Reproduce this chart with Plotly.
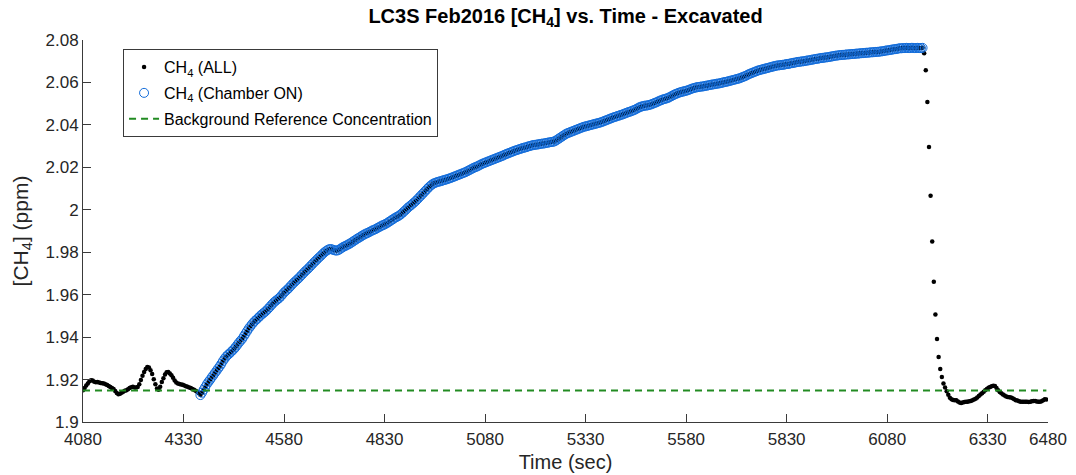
import plotly.graph_objects as go

# Sampling grid of the analyser (s)
T_START = 4080
SAMPLE_DT = 4

# [CH4] (ppm) before the chamber was closed, 4080-4368 s
ch4_before = [
    1.9150, 1.9160, 1.9172, 1.9182, 1.9192, 1.9197, 1.9196, 1.9190, 1.9187, 1.9188,
    1.9186, 1.9184, 1.9183, 1.9181, 1.9178, 1.9174, 1.9170, 1.9165, 1.9160, 1.9155,
    1.9146, 1.9137, 1.9131, 1.9133, 1.9138, 1.9143, 1.9147, 1.9150, 1.9154, 1.9160,
    1.9164, 1.9166, 1.9163, 1.9162, 1.9165, 1.9178, 1.9198, 1.9218, 1.9236, 1.9250,
    1.9259, 1.9257, 1.9244, 1.9226, 1.9202, 1.9178, 1.9158, 1.9152, 1.9166, 1.9188,
    1.9206, 1.9224, 1.9235, 1.9236, 1.9229, 1.9220, 1.9208, 1.9196, 1.9186, 1.9181,
    1.9179, 1.9177, 1.9175, 1.9172, 1.9168, 1.9166, 1.9163, 1.9160, 1.9156, 1.9152,
    1.9147, 1.9142, 1.9136,
]

# [CH4] (ppm) while the chamber is ON, 4372-6168 s
ch4_chamber = [
    1.9127, 1.9138, 1.9152, 1.9165, 1.9178,
    1.9189, 1.9199, 1.9210, 1.9220,
    1.9231, 1.9241, 1.9252, 1.9262,
    1.9274, 1.9287, 1.9298, 1.9308,
    1.9316, 1.9322, 1.9330, 1.9337, 1.9345,
    1.9354, 1.9364, 1.9374, 1.9383, 1.9392,
    1.9404, 1.9416, 1.9428, 1.9440, 1.9450, 1.9460,
    1.9469, 1.9477, 1.9484, 1.9491, 1.9499, 1.9506, 1.9512,
    1.9518, 1.9525, 1.9533, 1.9541, 1.9550, 1.9558, 1.9566, 1.9572,
    1.9578, 1.9584, 1.9592, 1.9601, 1.9610, 1.9617, 1.9624,
    1.9631, 1.9640, 1.9648, 1.9656, 1.9663, 1.9670, 1.9677, 1.9685,
    1.9693, 1.9701, 1.9709, 1.9716, 1.9723, 1.9731, 1.9739, 1.9747,
    1.9755, 1.9762, 1.9770, 1.9777, 1.9784, 1.9792, 1.9799, 1.9805, 1.9810, 1.9814,
    1.9815, 1.9813, 1.9810, 1.9808, 1.9808, 1.9811, 1.9816, 1.9821, 1.9826,
    1.9829, 1.9833, 1.9837, 1.9841, 1.9846, 1.9851, 1.9856, 1.9861, 1.9866, 1.9870,
    1.9875, 1.9880, 1.9884, 1.9888,
    1.9891, 1.9895, 1.9899, 1.9903, 1.9906, 1.9909, 1.9914, 1.9918, 1.9922, 1.9926, 1.9929,
    1.9933, 1.9937, 1.9942, 1.9947, 1.9952, 1.9957, 1.9962, 1.9966, 1.9970, 1.9975,
    1.9981, 1.9988, 1.9995, 2.0002, 2.0010, 2.0016, 2.0022, 2.0029,
    2.0035, 2.0042, 2.0050, 2.0058, 2.0066, 2.0074, 2.0082,
    2.0090, 2.0098, 2.0106, 2.0113, 2.0119, 2.0124, 2.0127, 2.0130,
    2.0132, 2.0134, 2.0136, 2.0139, 2.0141, 2.0143, 2.0146, 2.0148,
    2.0151, 2.0154, 2.0157, 2.0160, 2.0163, 2.0166, 2.0169, 2.0172, 2.0175, 2.0178,
    2.0182, 2.0186, 2.0190, 2.0194, 2.0198, 2.0201, 2.0204, 2.0208, 2.0212, 2.0216, 2.0219,
    2.0222, 2.0225, 2.0228, 2.0231, 2.0234, 2.0237, 2.0240, 2.0243, 2.0246, 2.0249,
    2.0252, 2.0255, 2.0259, 2.0262, 2.0265, 2.0268, 2.0271, 2.0274, 2.0277, 2.0280, 2.0282,
    2.0285, 2.0287, 2.0290, 2.0292, 2.0294, 2.0296, 2.0299, 2.0301, 2.0303, 2.0305,
    2.0306, 2.0307, 2.0308, 2.0310, 2.0311, 2.0312, 2.0313, 2.0315, 2.0316, 2.0318,
    2.0319, 2.0320, 2.0322,
    2.0326, 2.0331, 2.0336, 2.0341, 2.0346, 2.0351, 2.0356, 2.0360,
    2.0363, 2.0366, 2.0369, 2.0372, 2.0375, 2.0378, 2.0381, 2.0384, 2.0387, 2.0390,
    2.0392, 2.0394, 2.0396, 2.0398, 2.0400, 2.0402, 2.0404, 2.0406, 2.0408, 2.0410,
    2.0412, 2.0415, 2.0418, 2.0421, 2.0424, 2.0427, 2.0430, 2.0433, 2.0436, 2.0438, 2.0441,
    2.0443, 2.0446, 2.0448, 2.0451, 2.0454, 2.0457, 2.0460, 2.0462, 2.0465, 2.0468,
    2.0471, 2.0475, 2.0479, 2.0483, 2.0486, 2.0488, 2.0490, 2.0491, 2.0492, 2.0494,
    2.0496, 2.0499, 2.0502, 2.0505, 2.0508, 2.0512, 2.0515, 2.0518, 2.0521, 2.0523, 2.0525,
    2.0528, 2.0532, 2.0536, 2.0540, 2.0544, 2.0547, 2.0550, 2.0553,
    2.0555, 2.0557, 2.0559, 2.0561, 2.0563, 2.0566, 2.0569, 2.0572, 2.0574, 2.0576,
    2.0578, 2.0579, 2.0580,
    2.0581, 2.0582, 2.0584, 2.0585, 2.0587, 2.0588, 2.0590, 2.0591, 2.0592, 2.0594,
    2.0595, 2.0596,
    2.0598, 2.0600, 2.0602, 2.0603, 2.0605, 2.0607, 2.0609, 2.0611, 2.0613, 2.0615,
    2.0617, 2.0619,
    2.0622, 2.0625, 2.0628, 2.0631, 2.0635, 2.0639, 2.0642, 2.0645, 2.0648, 2.0651,
    2.0654, 2.0657, 2.0659,
    2.0661, 2.0663, 2.0665, 2.0667, 2.0669, 2.0671, 2.0673, 2.0675, 2.0677, 2.0679,
    2.0680, 2.0681,
    2.0682, 2.0683, 2.0684, 2.0686, 2.0687, 2.0688, 2.0690, 2.0691, 2.0693, 2.0694,
    2.0696, 2.0697, 2.0698,
    2.0699, 2.0700, 2.0701, 2.0703, 2.0704, 2.0705, 2.0707, 2.0708, 2.0710, 2.0711,
    2.0712, 2.0714,
    2.0715, 2.0716, 2.0717, 2.0718, 2.0719, 2.0720, 2.0722, 2.0723, 2.0725, 2.0726,
    2.0727, 2.0728, 2.0729,
    2.0730, 2.0730, 2.0731, 2.0732, 2.0732, 2.0733, 2.0734, 2.0734, 2.0735, 2.0736,
    2.0736, 2.0737,
    2.0738, 2.0738, 2.0739, 2.0740, 2.0740, 2.0741, 2.0742, 2.0742, 2.0743, 2.0744,
    2.0744, 2.0745,
    2.0746, 2.0747, 2.0748, 2.0750, 2.0751, 2.0752, 2.0753, 2.0755, 2.0756, 2.0757,
    2.0758, 2.0760, 2.0761,
    2.0761, 2.0762, 2.0762, 2.0763, 2.0762, 2.0762, 2.0763, 2.0763, 2.0762, 2.0762,
    2.0763, 2.0762, 2.0762, 2.0763,
]

# [CH4] (ppm) after the chamber was opened, 6172-6476 s
ch4_after = [
    2.0737, 2.0657, 2.0508, 2.0296, 2.0066, 1.9850, 1.9661, 1.9507, 1.9391, 1.9306,
    1.9250, 1.9212, 1.9182, 1.9162, 1.9145, 1.9128, 1.9114, 1.9107, 1.9104, 1.9103,
    1.9102, 1.9097, 1.9092, 1.9090, 1.9092, 1.9094, 1.9095, 1.9096,
    1.9098, 1.9099, 1.9103, 1.9106, 1.9110, 1.9115, 1.9122, 1.9130, 1.9136, 1.9142,
    1.9150, 1.9156, 1.9161, 1.9165, 1.9168, 1.9171, 1.9170, 1.9160, 1.9150, 1.9141,
    1.9135, 1.9130, 1.9125, 1.9120, 1.9118, 1.9117, 1.9116, 1.9112, 1.9107, 1.9103,
    1.9101, 1.9098, 1.9096, 1.9095, 1.9095, 1.9096, 1.9095, 1.9094, 1.9096, 1.9098,
    1.9099, 1.9099, 1.9097, 1.9096, 1.9095, 1.9098, 1.9103, 1.9107, 1.9106,
]

# Background reference concentration (ppm)
bg_ref = 1.9148

# Axis ticks
x_ticks = [4080, 4330, 4580, 4830, 5080, 5330, 5580, 5830, 6080, 6330, 6480]
y_ticks = [1.90, 1.92, 1.94, 1.96, 1.98, 2.00, 2.02, 2.04, 2.06, 2.08]
y_tick_labels = ["1.9", "1.92", "1.94", "1.96", "1.98", "2", "2.02", "2.04", "2.06", "2.08"]

ch4_all = ch4_before + ch4_chamber + ch4_after
time_s = [T_START + SAMPLE_DT * i for i in range(len(ch4_all))]
i_on = len(ch4_before)
time_on = time_s[i_on:i_on + len(ch4_chamber)]

FONT = "Liberation Sans, Arial, Helvetica, sans-serif"
AXIS_COL = "#3a3a3a"
TEXT_COL = "#262626"
BLUE = "rgb(18,108,218)"

fig = go.Figure()

fig.add_trace(go.Scatter(
    x=time_s, y=ch4_all, mode="markers",
    name="CH<sub>4</sub> (ALL)", legendgroup="all",
    marker=dict(symbol="circle", size=4.5, color="black", line=dict(width=0)),
))

fig.add_trace(go.Scatter(
    x=time_on, y=ch4_chamber, mode="markers",
    name="CH<sub>4</sub> (Chamber ON)", legendgroup="on",
    marker=dict(symbol="circle-open", size=9, color=BLUE,
                line=dict(width=1, color=BLUE)),
))

fig.add_trace(go.Scatter(
    x=[time_s[0], time_s[-1]], y=[bg_ref, bg_ref], mode="lines",
    name="Background Reference Concentration", legendgroup="bg",
    line=dict(color="rgb(34,139,34)", width=2, dash="7px,5px"),
))

fig.update_layout(
    width=1076, height=475,
    margin=dict(l=83, r=28, t=40, b=53),
    paper_bgcolor="white", plot_bgcolor="white",
    font=dict(family=FONT, size=17, color=TEXT_COL),
    title=dict(
        text="<b>LC3S Feb2016 [CH<sub>4</sub>] vs. Time - Excavated</b>",
        x=0.5256, xref="container", xanchor="center",
        y=0.966, yref="container", yanchor="middle",
        font=dict(family=FONT, size=20, color="black"),
    ),
    showlegend=True,
    legend=dict(
        x=0.0415, y=0.976, xanchor="left", yanchor="top",
        bgcolor="white", bordercolor=AXIS_COL, borderwidth=1,
        font=dict(family=FONT, size=16, color="black"),
        tracegroupgap=2,
    ),
    xaxis=dict(
        range=[4080, 6480], tickmode="array", tickvals=x_ticks,
        ticks="inside", ticklen=8, tickcolor=AXIS_COL, tickwidth=1,
        showline=True, linecolor=AXIS_COL, linewidth=1,
        showgrid=False, zeroline=False, mirror=False, automargin=False,
        tickfont=dict(size=17, color=TEXT_COL), ticklabelstandoff=2,
        title=dict(text="Time (sec)", font=dict(size=20, color=TEXT_COL), standoff=6),
    ),
    yaxis=dict(
        range=[1.9, 2.08], tickmode="array", tickvals=y_ticks, ticktext=y_tick_labels,
        ticks="inside", ticklen=8, tickcolor=AXIS_COL, tickwidth=1,
        showline=True, linecolor=AXIS_COL, linewidth=1,
        showgrid=False, zeroline=False, mirror=False, automargin=False,
        tickfont=dict(size=17, color=TEXT_COL),
        title=dict(text="[CH<sub>4</sub>] (ppm)", font=dict(size=21, color=TEXT_COL), standoff=11),
    ),
)

fig.write_html("out.html")
